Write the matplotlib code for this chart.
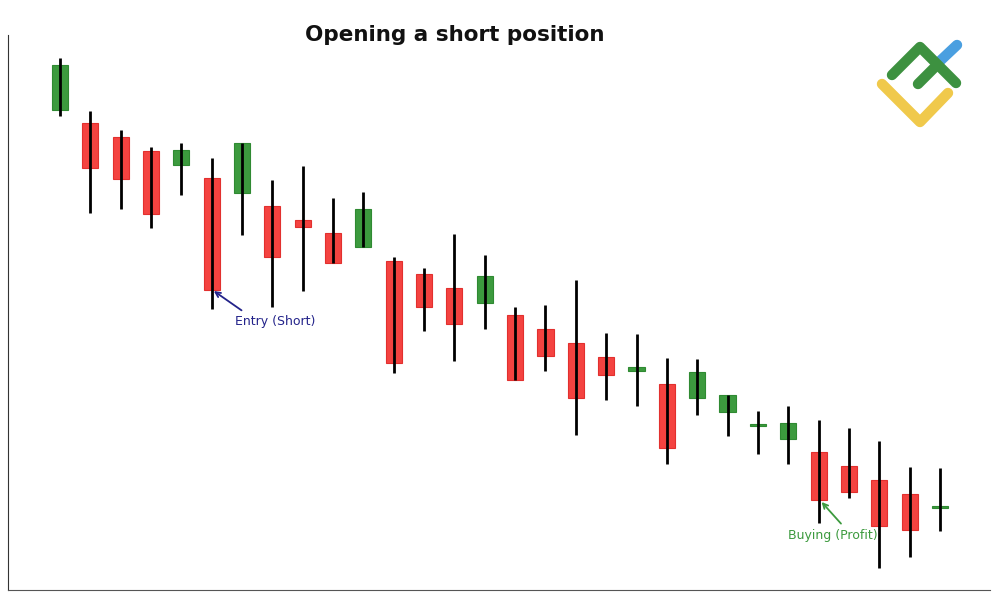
import matplotlib
matplotlib.use("Agg")
import matplotlib.pyplot as plt
from matplotlib.lines import Line2D
import numpy as np

# candle values (arbitrary price units)
opens = [490, 477, 463, 449, 435, 422, 407, 394, 380, 367,
         353, 339, 326, 312, 297, 285, 271, 257, 243, 229,
         216, 202, 188, 175, 161, 148, 134, 120, 106, 93]
closes = [535, 432, 421, 386, 450, 310, 457, 343, 373, 337,
          391, 237, 293, 276, 324, 220, 244, 202, 225, 233,
          152, 228, 205, 175, 177, 100, 108, 74, 70, 93]
highs = [542, 489, 470, 453, 457, 442, 457, 420, 434, 402,
         408, 343, 332, 366, 345, 293, 295, 320, 267, 266,
         242, 241, 205, 189, 194, 180, 172, 159, 133, 132]
lows = [484, 387, 391, 372, 405, 291, 365, 293, 309, 337,
        353, 227, 269, 239, 271, 220, 229, 165, 200, 194,
        136, 185, 164, 146, 136, 77, 102, 32, 43, 69]

title = "Opening a short position"
entry_idx, entry_label = 5, "Entry (Short)"
exit_idx, exit_label = 25, "Buying (Profit)"

RED = "#f44340"
RED_EDGE = "#e2302e"
GREEN = "#3c9a3e"
GREEN_EDGE = "#2f8a32"

fig = plt.figure(figsize=(10, 6), dpi=100)
ax = fig.add_axes([0.008, 10 / 600, 0.982, 555 / 600])

x = np.arange(len(opens))
o = np.array(opens, float)
c = np.array(closes, float)
up = c >= o
bottom = np.minimum(o, c)
height = np.maximum(np.abs(c - o), 2.5)
bottom = np.where(np.abs(c - o) < 2.5, o - 1.25, bottom)

ax.vlines(x, lows, highs, color="black", linewidth=2.0, zorder=3)
ax.bar(x, height, bottom=bottom, width=0.53,
       color=np.where(up, GREEN, RED), edgecolor=np.where(up, GREEN_EDGE, RED_EDGE),
       linewidth=0.8, zorder=2)

ax.set_xlim(-1.714, 30.65)
ax.set_ylim(10, 565)
ax.set_xticks([])
ax.set_yticks([])
for s in ["top", "right"]:
    ax.spines[s].set_visible(False)
ax.spines["left"].set_color("#333333")
ax.spines["bottom"].set_color("#555555")

ax.annotate(entry_label, xy=(entry_idx + 0.07, lows[entry_idx] + 18),
            xytext=(entry_idx + 2.1, lows[entry_idx] - 13), ha="center", va="center",
            fontsize=9, color="#23238a",
            arrowprops=dict(arrowstyle="->", color="#23238a", lw=1.3, shrinkA=3, shrinkB=0,
                            relpos=(0.17, 1.0)))
ax.annotate(exit_label, xy=(exit_idx + 0.1, closes[exit_idx] - 2),
            xytext=(exit_idx + 0.47, closes[exit_idx] - 36), ha="center", va="center",
            fontsize=9, color="#3c9a3e",
            arrowprops=dict(arrowstyle="->", color="#3c9a3e", lw=1.3, shrinkA=3, shrinkB=0,
                            relpos=(0.65, 1.0)))

fig.text(0.455, 1 - 35 / 600, title, ha="center", va="center",
         fontsize=15.5, fontweight="bold", color="#111111")

# logo
def px(pts):
    xs = [p[0] / 1000 for p in pts]
    ys = [1 - p[1] / 600 for p in pts]
    return xs, ys

for pts, col in [
    ([(882, 84), (920, 122), (948, 93)], "#f0c94b"),
    ([(940, 61), (957, 45)], "#4a9fe0"),
    ([(892, 75), (920, 47), (956, 83)], "#3d9140"),
    ([(918, 84), (936, 66)], "#3d9140"),
]:
    xs, ys = px(pts)
    fig.add_artist(Line2D(xs, ys, transform=fig.transFigure, color=col,
                          linewidth=7.5, solid_capstyle="round", solid_joinstyle="round"))

fig.savefig("out.png", dpi=100)
